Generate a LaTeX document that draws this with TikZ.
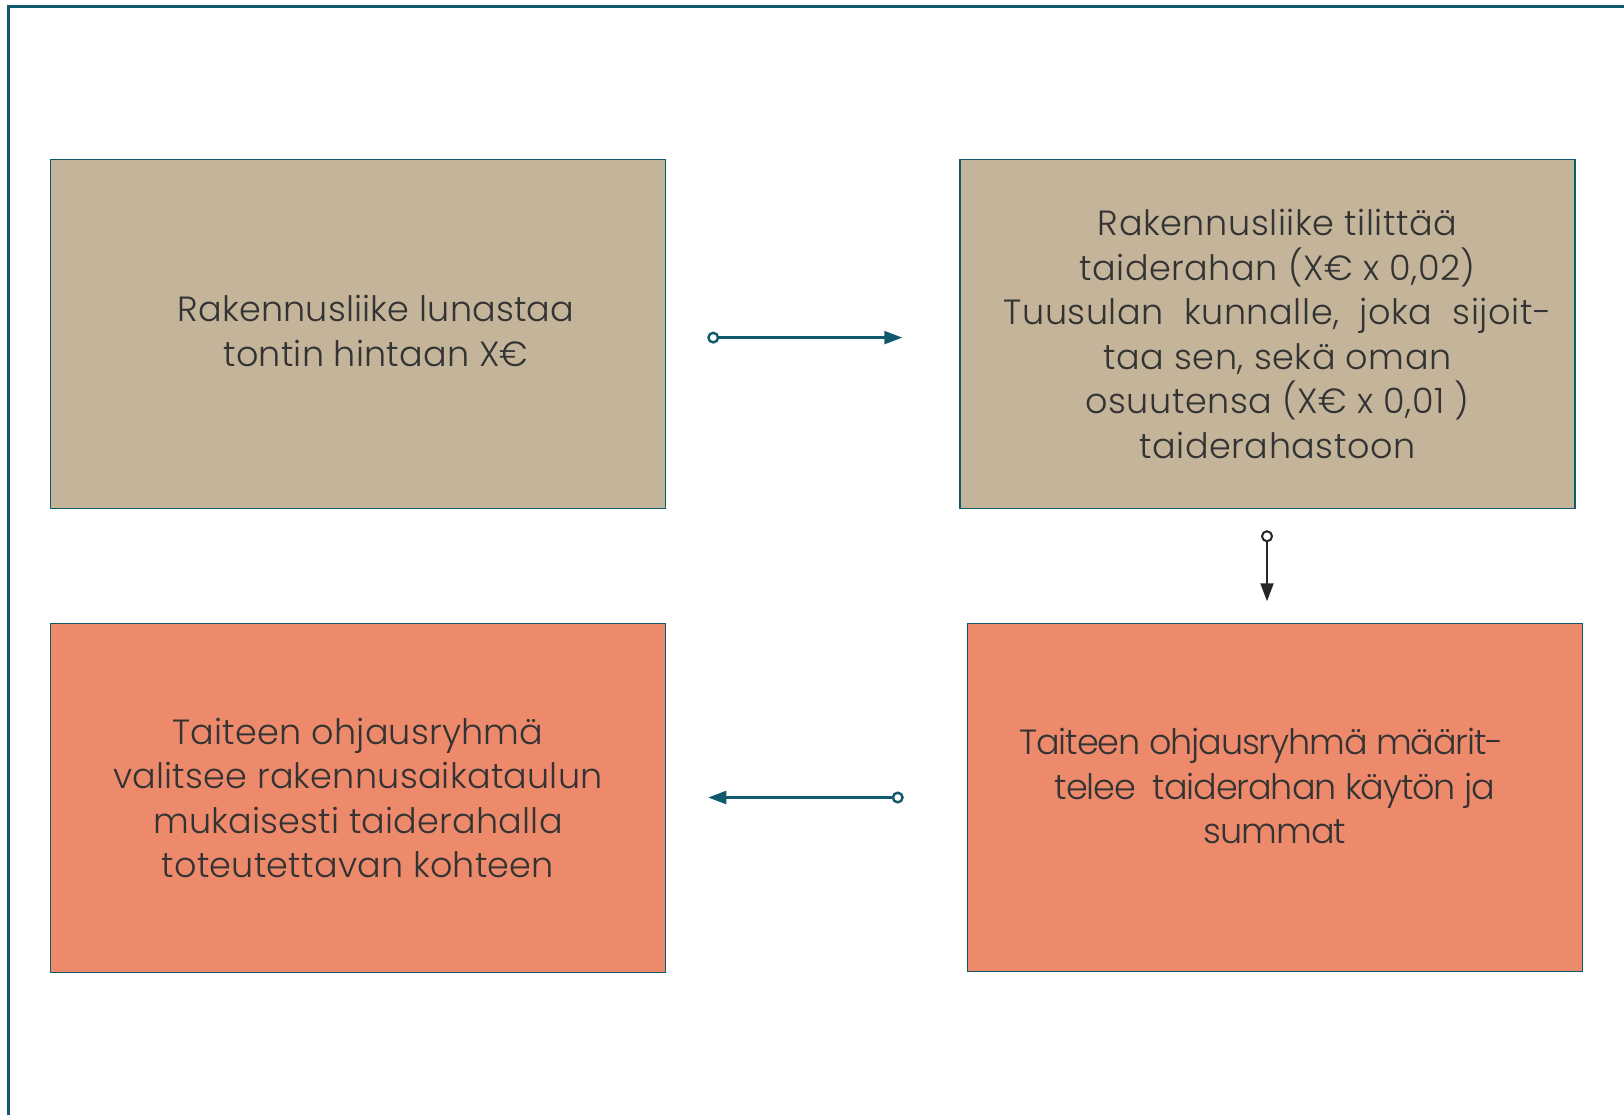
\documentclass[tikz,border=0pt]{standalone}
\usepackage{fontspec}
\setmainfont{Poppins Light}
\newfontfamily\avara[LetterSpace=1.6]{Poppins Light}
\newfontfamily\vakio[LetterSpace=0.6]{Poppins Light}
\newfontfamily\tiivis[LetterSpace=-3.2]{Poppins Light}
\usetikzlibrary{arrows.meta,positioning,calc}

\definecolor{frameteal}{HTML}{0F5A6C}
\definecolor{tontti}{HTML}{C3B49A}
\definecolor{ryhma}{HTML}{EE8A6C}
\definecolor{teksti}{HTML}{333333}

\tikzset{
  box/.style={draw=frameteal, line width=0.75pt, inner sep=0pt,
    minimum width=307.5pt, minimum height=174.5pt,
    align=center, text=teksti, font=\vakio\fontsize{17.5}{22.3}\selectfont},
  tanbox/.style={box, fill=tontti},
  redbox/.style={box, fill=ryhma},
  flow/.style={line width=1.2pt,
    {Circle[open,length=6pt,width=6pt]}-{Triangle[length=9pt,width=6.5pt]}},
}

\begin{document}
\begin{tikzpicture}[x=0.5pt, y=-0.5pt]

  \useasboundingbox (0,0) rectangle (1624,1115); %% positioning

  \draw[frameteal, line width=1.3pt] (8.7,1115) -- (8.7,6.3) -- (1624,6.3);

  \node[tanbox] (b1) at (358,334)
    {\hspace*{18pt}Rakennusliike lunastaa\\\hspace*{18pt}tontin hintaan X€\\[-19.3pt]};
  \node[tanbox, font=\avara\fontsize{17.5}{22.3}\selectfont] (b2) at (1267.5,334)
    {\hspace*{10pt}Rakennusliike tilittää\\\hspace*{10pt}taiderahan (X€ x 0,02)\\
     \hspace*{10pt}Tuusulan\ \ kunnalle,\ \ joka\ \ sijoit-\\\hspace*{10pt}taa sen, sekä oman\\
     \hspace*{10pt}osuutensa (X€ x 0,01 )\\\hspace*{10pt}taiderahastoon};
  \node[redbox] (b3) at (358,798)
    {Taiteen ohjausryhmä\\valitsee rakennusaikataulun\\
     mukaisesti taiderahalla\\toteutettavan kohteen};
  \node[redbox, minimum height=174pt, font=\tiivis\fontsize{17.5}{22.3}\selectfont] (b4) at (1275,797.5)
    {\hspace*{-13.5pt}Taiteen ohjausryhmä määrit-\\telee\ \ taiderahan käytön ja\\summat\\[-11pt]};

  \coordinate (a1) at ($(b1.east)+(41,3.6)$);
  \coordinate (a2) at ($(b2.west)+(-57,3.6)$);
  \coordinate (a3) at ($(b2.south)+(-0.5,21)$);
  \coordinate (a4) at ($(b2.south)+(-0.5,92)$);
  \coordinate (a5) at ($(b4.west)+(-63,0)$);
  \coordinate (a6) at ($(b3.east)+(42,-0.5)$);

  \draw[flow, frameteal] (a1) -- (a2);
  \draw[flow, black!85, line width=1pt] (a3) -- (a4);
  \draw[flow, frameteal] (a5) -- (a6);

\end{tikzpicture}
\end{document}
